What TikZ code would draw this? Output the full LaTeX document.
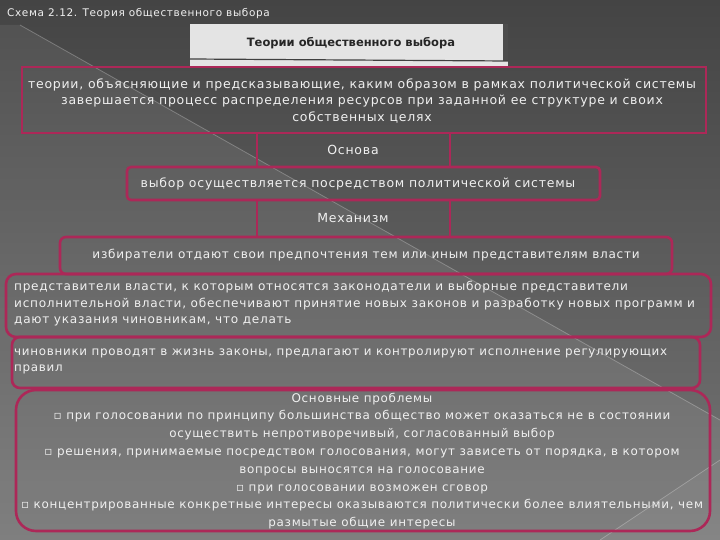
\documentclass[tikz,border=0pt]{standalone}
\usepackage{fontspec}
\setmainfont[LetterSpace=6]{DejaVu Sans}
\newfontfamily\imgfont{DejaVu Sans}
\usetikzlibrary{shapes.geometric}
\definecolor{bgtop}{RGB}{68,68,68}
\definecolor{bgbot}{RGB}{118,118,118}
\definecolor{crim}{RGB}{172,40,88}
\definecolor{txt}{RGB}{240,240,240}
\definecolor{imgfill}{RGB}{228,228,228}
\tikzset{
  frame/.style={draw=crim, line width=2.6pt},
  rframe/.style={draw=crim, line width=2.6pt, rounded corners=#1},
  lbl/.style={text=txt, font=\fontsize{12.5}{16.5}\selectfont, inner sep=0pt},
}
\begin{document}
\begin{tikzpicture}[x=1pt,y=-1pt]
\useasboundingbox (0,0) rectangle (720,540);
% background
\fill[top color=bgtop, bottom color=bgbot] (0,0) rectangle (720,540);
\fill[white, opacity=0.07] (20,25) -- (720,420) -- (720,540) -- (0,540) -- (0,25) -- cycle;
\draw[white, opacity=0.25, line width=0.8pt] (20,25) -- (720,420);
\fill[white, opacity=0.05] (720,460) -- (600,540) -- (720,540) -- cycle;
\draw[white, opacity=0.25, line width=0.8pt] (720,460) -- (600,540);
% title
\node[anchor=west, text=txt, font=\fontsize{10.5}{12}\selectfont, inner sep=0pt] (title) at (7,14) {Схема 2.12. Теория общественного выбора};
% image box
\fill[imgfill] (190,24) rectangle (508,68);
\fill[black!70] (503,24) rectangle (508,61);
\draw[black!75, line width=1.2pt] (190,59) -- (508,61);
\node[font=\imgfont\bfseries\fontsize{11.5}{12}\selectfont, text=black!85, inner sep=0pt] (imgtxt) at (351,43) {Теории общественного выбора};
% boxes
\draw[frame] (22,67) rectangle (706,133);
\node[lbl, align=center] (b1) at (362,101) {теории, объясняющие и предсказывающие, каким образом в рамках политической системы\\завершается процесс распределения ресурсов при заданной ее структуре и своих\\собственных целях};
\draw[frame] (257,133) rectangle (450,167);
\node[lbl] (osn) at (353,150) {Основа};
\draw[rframe=4pt] (127,167) rectangle (600,200);
\node[lbl] (vyb) at (358,184) {выбор осуществляется посредством политической системы};
\draw[frame] (257,200) rectangle (450,237);
\node[lbl] (mech) at (353,218) {Механизм};
\draw[rframe=6pt] (60,237) rectangle (672,274);
\node[lbl, font=\fontsize{12.05}{16}\selectfont] (izb) at (366,255) {избиратели отдают свои предпочтения тем или иным представителям власти};
\draw[rframe=10pt] (6,274) rectangle (711,337);
\node[lbl, align=left, anchor=west, font=\fontsize{12.1}{16.5}\selectfont] (pred) at (14,304) {представители власти, к которым относятся законодатели и выборные представители\\исполнительной власти, обеспечивают принятие новых законов и разработку новых программ и\\дают указания чиновникам, что делать};
\draw[rframe=8pt] (12,337) rectangle (700,388);
\node[lbl, align=left, anchor=west, font=\fontsize{11.9}{16}\selectfont] (chin) at (14,361) {чиновники проводят в жизнь законы, предлагают и контролируют исполнение регулирующих\\правил};
\draw[rframe=20pt] (16,390) rectangle (710,531);
\node[lbl, align=center, font=\fontsize{11.95}{17.8}\selectfont] (prob) at (362,461) {Основные проблемы\\▫ при голосовании по принципу большинства общество может оказаться не в состоянии\\осуществить непротиворечивый, согласованный выбор\\▫ решения, принимаемые посредством голосования, могут зависеть от порядка, в котором\\вопросы выносятся на голосование\\▫ при голосовании возможен сговор\\▫ концентрированные конкретные интересы оказываются политически более влиятельными, чем\\размытые общие интересы};
\end{tikzpicture}
\end{document}
